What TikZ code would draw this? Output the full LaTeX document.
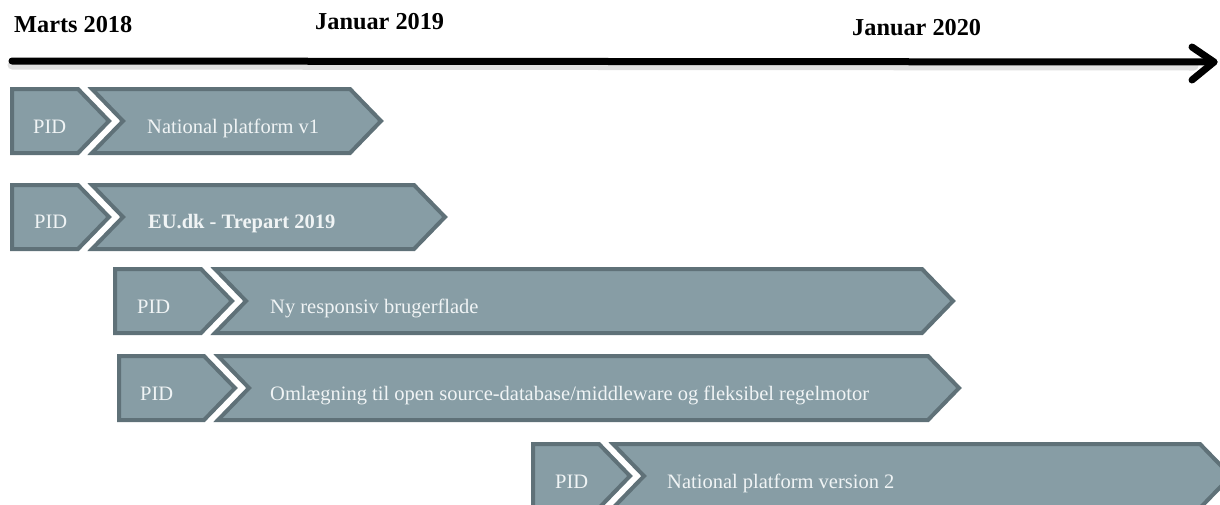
\documentclass[tikz,border=0pt]{standalone}
\usepackage{fontspec}
\setmainfont{Liberation Serif}
\definecolor{boxfill}{HTML}{879DA5}
\definecolor{boxline}{HTML}{5F7178}
\definecolor{boxtext}{HTML}{F0F4F5}
\newcommand\pidshape[5]{% L T B a(topright) d
  \path[boxshape] (#1,#2) -- (#4,#2) -- ({#4+#5},{(#2+#3)/2}) -- (#4,#3) -- (#1,#3) -- cycle;}
\newcommand\mainshape[5]{% b T B c d
  \path[boxshape] (#1,#2) -- (#4,#2) -- ({#4+#5},{(#2+#3)/2}) -- (#4,#3) -- (#1,#3) -- ({#1+#5},{(#2+#3)/2}) -- cycle;}
\begin{document}
\begin{tikzpicture}[x=1pt,y=-1pt,
  boxshape/.style={fill=boxfill,draw=boxline,line width=4pt,line join=miter},
  boxlabel/.style={anchor=base west,inner sep=0pt,text=boxtext,font=\fontsize{20.5}{24}\selectfont},
  datelabel/.style={anchor=base west,inner sep=0pt,font=\fontsize{24.3}{28}\selectfont\bfseries},
  axisline/.style={line width=7pt,line cap=round,line join=round}]
\useasboundingbox (0,0) rectangle (1220,504);
\clip (0,0) rectangle (1220,504);
% timeline
\coordinate (tA) at (12,61);
\coordinate (tB) at (1214,62);
\draw[line width=9pt,line cap=round,black!12] ([yshift=-4pt]tA) -- ([yshift=-4pt,xshift=-20pt]tB);
\draw[axisline] (tA) -- (tB);
\coordinate (hA) at (1192,47);
\coordinate (hB) at (1192,80);
\draw[axisline] (hA) -- (tB) -- (hB);
\node[datelabel] (d1) at (14,32) {Marts 2018};
\node[datelabel] (d2) at (315,29) {Januar 2019};
\node[datelabel] (d3) at (852,35) {Januar 2020};
% row 1
\pidshape{12}{89}{153}{78}{31}
\mainshape{92}{89}{153}{350}{31}
\node[boxlabel] (p1) at (33,133) {PID};
\node[boxlabel] (m1) at (147,133) {National platform v1};
% row 2
\pidshape{12}{185}{249}{78}{31}
\mainshape{92}{185}{249}{414}{31}
\node[boxlabel] (p2) at (34,228) {PID};
\node[boxlabel] (m2) at (148,228) {\bfseries EU.dk - Trepart 2019};
% row 3
\pidshape{115}{269}{333}{201}{31}
\mainshape{215}{269}{333}{922}{31}
\node[boxlabel] (p3) at (137,313) {PID};
\node[boxlabel] (m3) at (270,313) {Ny responsiv brugerflade};
% row 4
\pidshape{119}{356}{420}{204}{31}
\mainshape{218}{356}{420}{928}{31}
\node[boxlabel] (p4) at (140,400) {PID};
\node[boxlabel] (m4) at (270,400) {Omlægning til open source-database/middleware og fleksibel regelmotor};
% row 5
\pidshape{533}{444}{508}{599}{31}
\mainshape{613}{444}{508}{1200}{31}
\node[boxlabel] (p5) at (555,488) {PID};
\node[boxlabel] (m5) at (667,488) {National platform version 2};
\end{tikzpicture}
\end{document}
